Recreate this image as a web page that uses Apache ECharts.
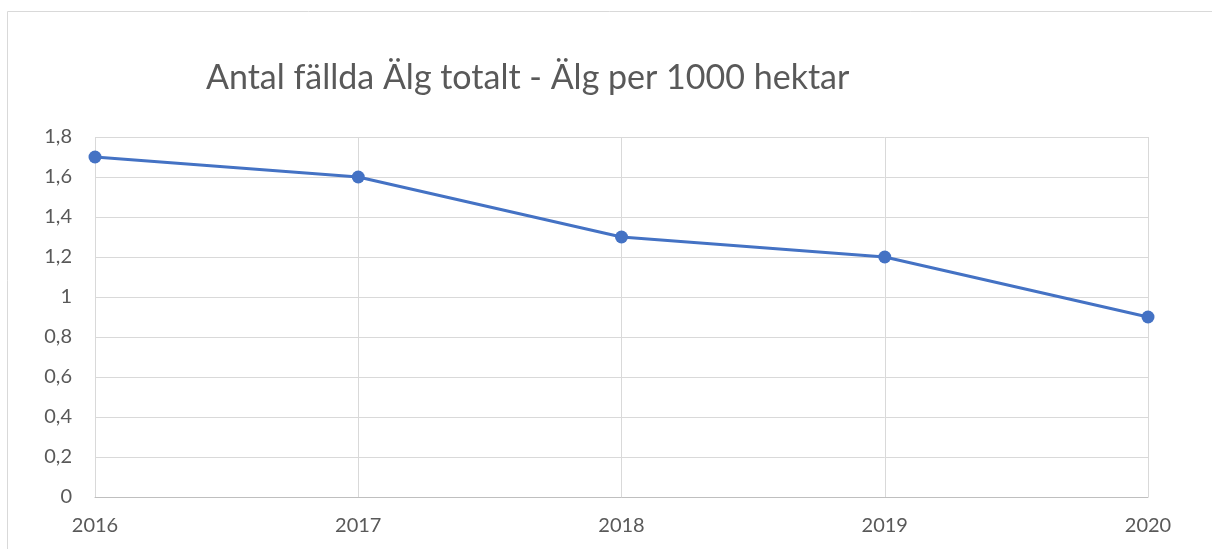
<!DOCTYPE html>
<html><head><meta charset="utf-8">
<script src="https://cdn.jsdelivr.net/npm/echarts@6/dist/echarts.min.js"></script>
<style>html,body{margin:0;padding:0;background:#fff}#c{width:1212px;height:549px}</style>
</head><body><div id="c"></div>
<script>
const titleText = 'Antal fällda Älg totalt - Älg per 1000 hektar';
const categories = ['2016','2017','2018','2019','2020'];
const values = [1.7, 1.6, 1.3, 1.2, 0.9];
const yTicks = [0, 0.2, 0.4, 0.6, 0.8, 1, 1.2, 1.4, 1.6, 1.8];

const chart = echarts.init(document.getElementById('c'));
const font = 'Lato, "Open Sans", sans-serif';
chart.setOption({
  animation: false,
  title: {
    text: titleText, left: 201, top: 56,
    textStyle: {fontFamily: font, fontSize: 34, fontWeight: 'normal', color: '#595959'}
  },
  graphic: [
    {type: 'line', shape: {x1: 7.5, y1: 11.5, x2: 1212, y2: 11.5}, style: {stroke: '#d9d9d9', lineWidth: 1}},
    {type: 'line', shape: {x1: 7.5, y1: 11.5, x2: 7.5, y2: 549}, style: {stroke: '#d9d9d9', lineWidth: 1}}
  ],
  grid: {left: 95, right: 64, top: 137, bottom: 52, containLabel: false},
  xAxis: {
    type: 'category', data: categories, boundaryGap: false,
    axisLine: {show: true, lineStyle: {color: '#bfbfbf', width: 1}},
    axisTick: {show: false},
    axisLabel: {color: '#595959', fontSize: 20, fontFamily: font, margin: 19},
    splitLine: {show: true, lineStyle: {color: '#d9d9d9', width: 1}}
  },
  yAxis: {
    type: 'value', min: yTicks[0], max: yTicks[yTicks.length-1], interval: 0.2,
    axisLine: {show: false}, axisTick: {show: false},
    axisLabel: {color: '#595959', fontSize: 20, fontFamily: font, margin: 23,
      formatter: v => String(Math.round(v*10)/10).replace('.', ',')},
    splitLine: {show: true, lineStyle: {color: '#d9d9d9', width: 1}}
  },
  series: [{
    type: 'line', data: values, symbol: 'circle', symbolSize: 13,
    lineStyle: {color: '#4472C4', width: 3},
    itemStyle: {color: '#4472C4'}
  }]
});
</script></body></html>
